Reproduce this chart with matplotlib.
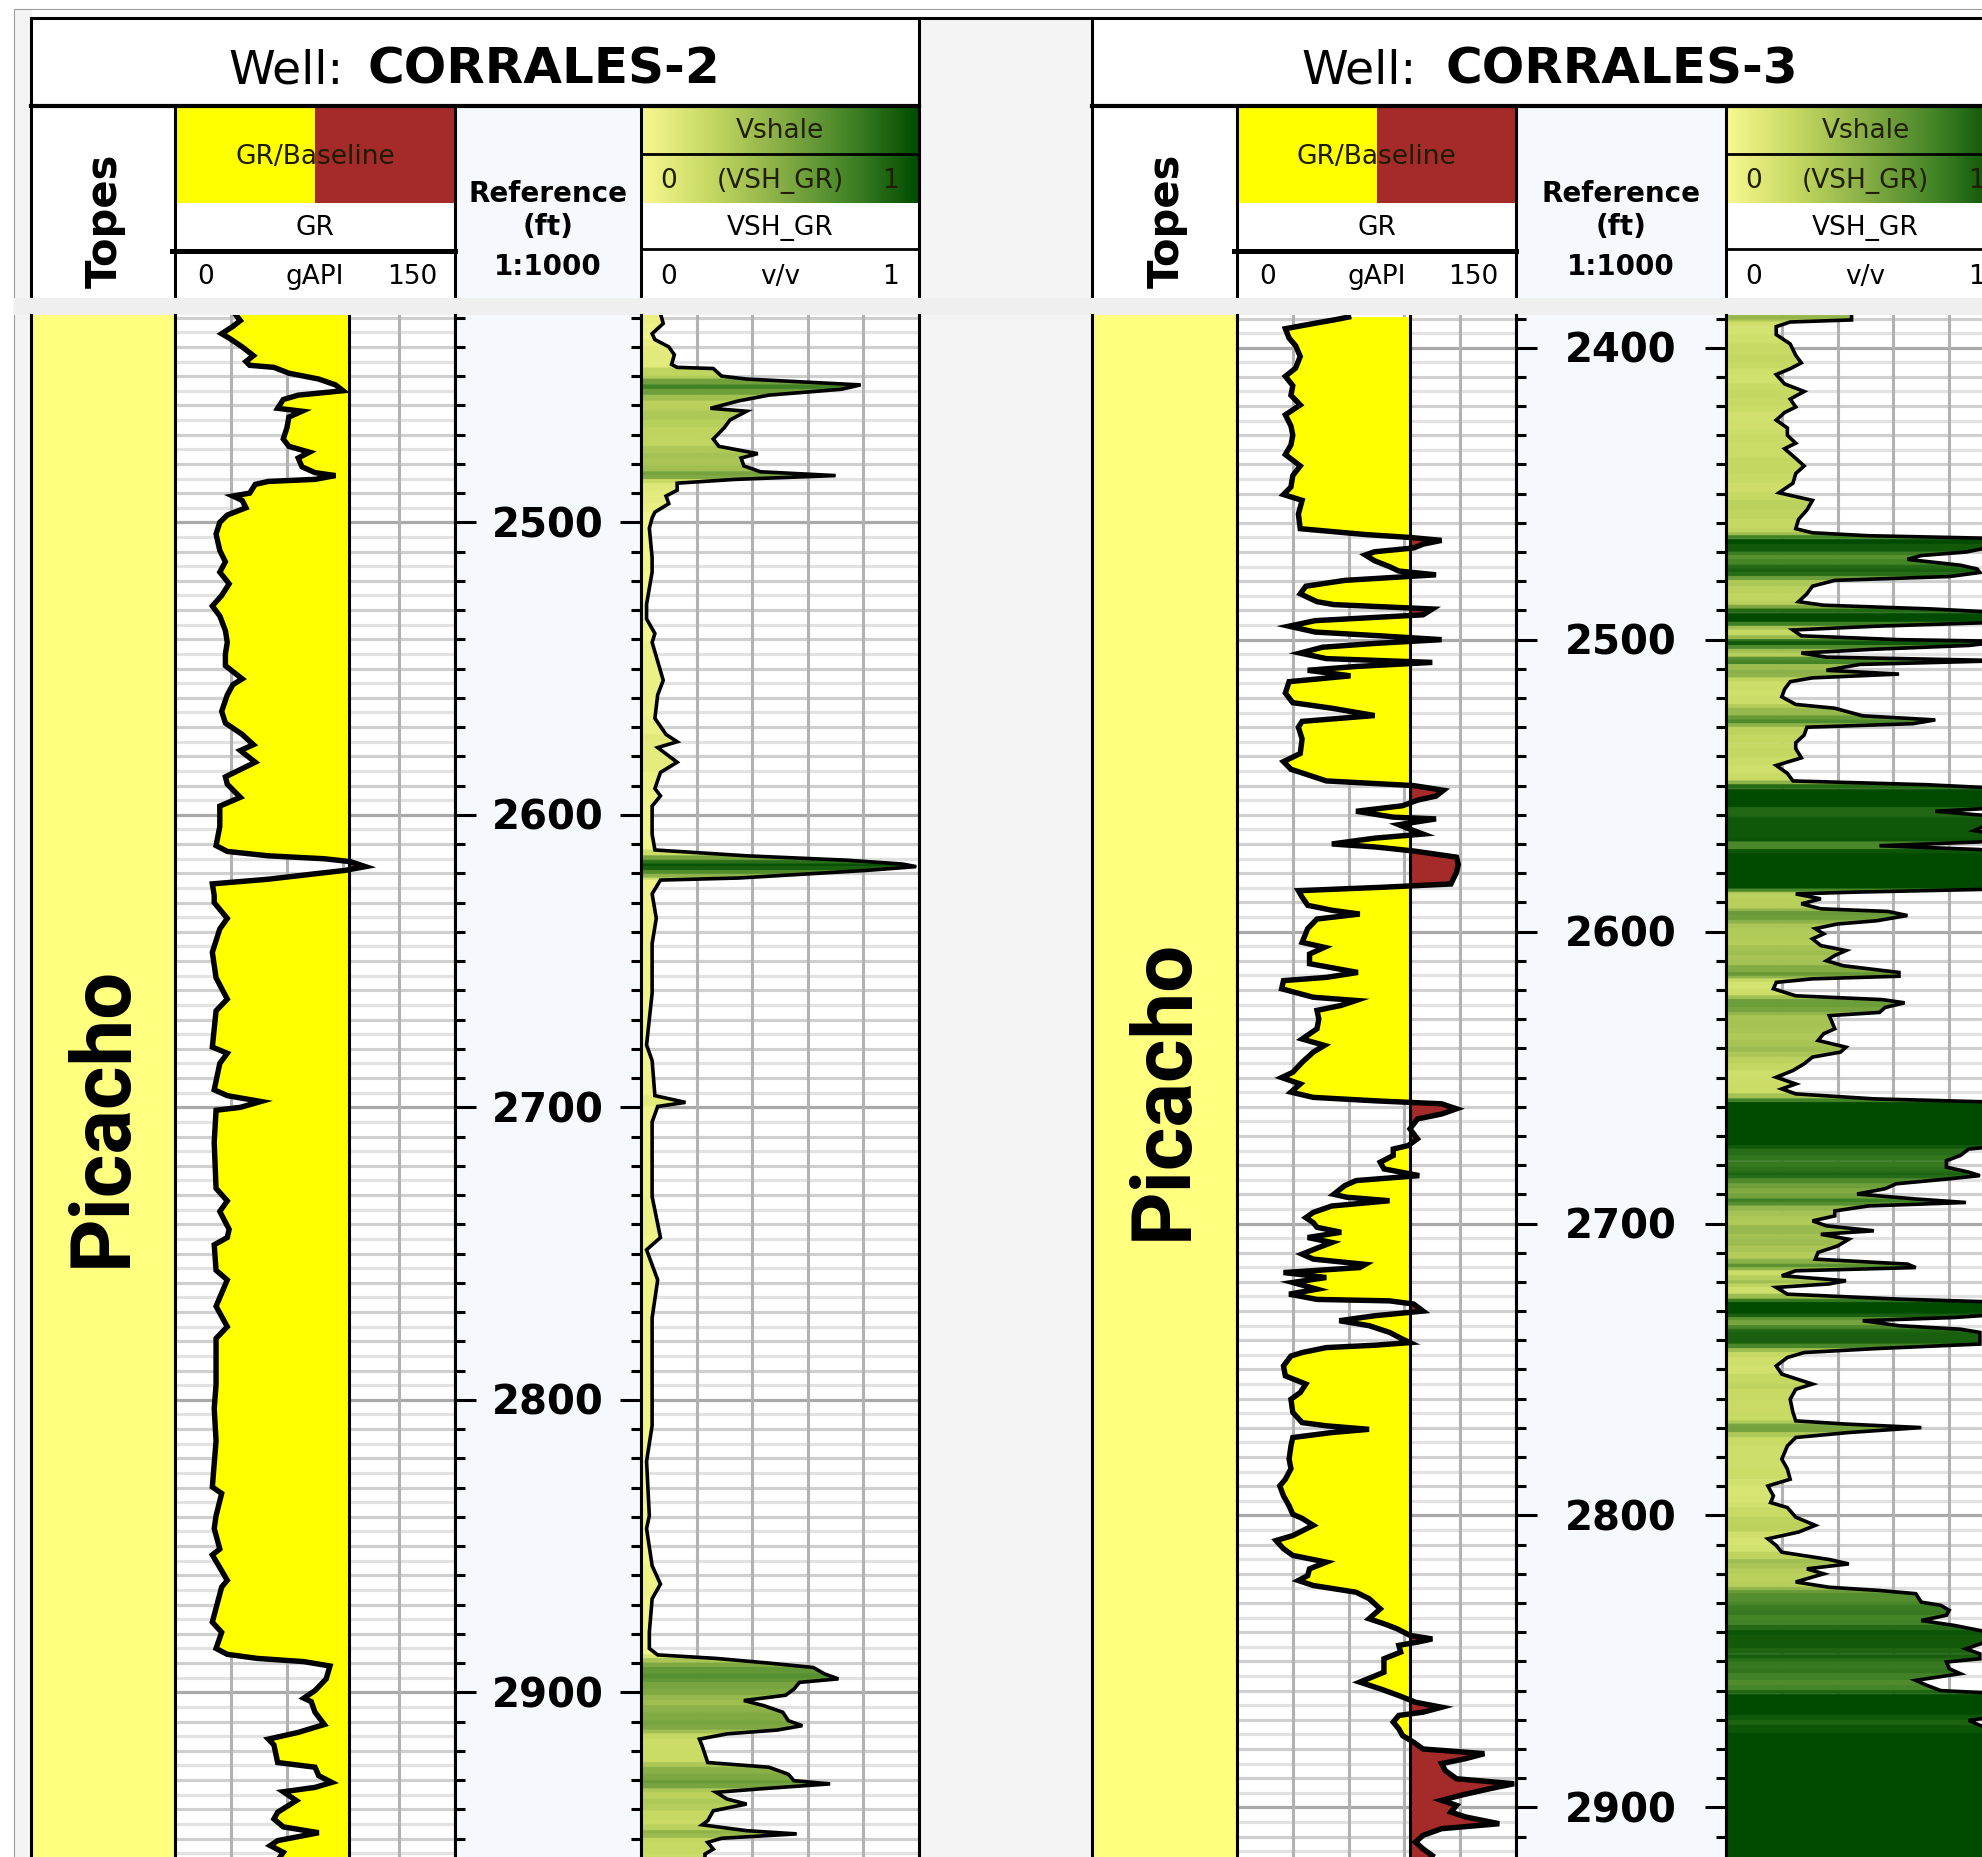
"""Two-well log correlation panel: GR with baseline shading and VSH_GR."""
import numpy as np
import matplotlib.pyplot as plt
from matplotlib.collections import PolyCollection
from matplotlib.colors import LinearSegmentedColormap
from matplotlib.patches import Rectangle

plt.rcParams["font.family"] = "DejaVu Sans"

WELLS = ["CORRALES-2", "CORRALES-3"]
FORMATION = "Picacho"
GR_BASELINE = [93, 93]  # gAPI
GR_RANGE = (0, 150)
VSH_RANGE = (0, 1)

# (depth ft, GR gAPI)
W1_GR = [
    (2428.6, 32), (2431.0, 35), (2433.0, 31), (2435.5, 25), (2437.0, 29), (2440.0, 36),
    (2443.0, 42), (2445.0, 38), (2446.3, 40), (2447.0, 53), (2449.0, 61), (2451.0, 77),
    (2453.0, 86), (2455.0, 90), (2456.5, 66), (2458.0, 58), (2461.0, 55), (2462.0, 68),
    (2464.0, 61), (2467.6, 60), (2471.5, 58), (2474.0, 61), (2476.0, 72), (2478.0, 66),
    (2481.0, 68), (2483.0, 75), (2484.0, 86), (2485.3, 75), (2486.0, 50), (2487.0, 43),
    (2490.0, 40), (2491.0, 31), (2492.5, 36), (2495.0, 38), (2497.5, 28), (2500.0, 24),
    (2504.0, 22), (2509.6, 24), (2513.5, 27), (2517.0, 24), (2521.0, 29), (2525.0, 25),
    (2528.6, 20), (2532.0, 24), (2537.0, 27), (2541.0, 28), (2545.0, 27), (2549.0, 27),
    (2553.5, 36), (2555.5, 31), (2559.0, 28), (2564.6, 25), (2568.6, 27), (2572.5, 36),
    (2576.0, 42), (2578.0, 35), (2582.0, 43), (2587.0, 27), (2589.5, 28), (2594.0, 35),
    (2597.0, 24), (2604.0, 24), (2610.5, 22), (2612.5, 28), (2614.0, 50), (2615.0, 80),
    (2616.0, 94), (2617.7, 102), (2619.0, 91), (2620.0, 77), (2622.0, 50), (2623.6, 20),
    (2627.5, 21), (2630.0, 21), (2635.4, 28), (2639.0, 24), (2647.0, 20), (2655.7, 22),
    (2663.0, 28), (2667.0, 22), (2679.4, 20), (2681.5, 28), (2685.0, 24), (2694.0, 21),
    (2696.0, 28), (2698.0, 46), (2700.0, 35), (2701.0, 22), (2712.0, 21), (2727.7, 22),
    (2732.0, 28), (2735.6, 24), (2741.7, 29), (2744.5, 28), (2747.0, 21), (2755.7, 22),
    (2759.0, 28), (2768.0, 22), (2775.0, 28), (2779.0, 22), (2794.8, 22), (2803.0, 21),
    (2814.0, 22), (2829.8, 20), (2832.0, 25), (2839.6, 22), (2844.0, 21), (2851.0, 24),
    (2853.0, 20), (2861.7, 28), (2864.0, 25), (2876.0, 20), (2879.5, 25), (2885.0, 22),
    (2887.0, 28), (2888.4, 44), (2889.5, 69), (2891.0, 83), (2895.4, 81), (2899.4, 75),
    (2902.0, 69), (2903.2, 73), (2906.8, 75), (2911.0, 80), (2913.7, 66), (2916.0, 50),
    (2918.0, 53), (2924.0, 55), (2925.6, 75), (2928.5, 77), (2930.8, 84), (2932.5, 75),
    (2934.0, 58), (2937.0, 65), (2941.0, 55), (2943.3, 53), (2946.0, 58), (2948.0, 77),
    (2950.7, 55), (2952.4, 51), (2954.7, 58), (2956.5, 56),
]

# (depth ft, VSH_GR v/v)
W1_VSH = [
    (2428.6, 0.07), (2432.0, 0.08), (2435.5, 0.04), (2437.5, 0.05), (2440.0, 0.10),
    (2442.7, 0.12), (2446.0, 0.11), (2447.0, 0.13), (2447.4, 0.26), (2450.0, 0.29),
    (2451.0, 0.38), (2453.0, 0.79), (2454.5, 0.72), (2456.5, 0.46), (2458.5, 0.35),
    (2461.0, 0.25), (2462.0, 0.38), (2465.0, 0.32), (2467.6, 0.30), (2471.5, 0.26),
    (2474.0, 0.28), (2476.5, 0.42), (2478.0, 0.36), (2480.7, 0.37), (2482.7, 0.43),
    (2484.0, 0.70), (2485.3, 0.34), (2486.6, 0.13), (2489.0, 0.13), (2491.0, 0.09),
    (2493.6, 0.10), (2496.5, 0.05), (2498.5, 0.04), (2502.0, 0.03), (2512.0, 0.04),
    (2517.0, 0.04), (2528.0, 0.02), (2533.0, 0.02), (2538.0, 0.05), (2541.0, 0.04),
    (2554.0, 0.08), (2559.0, 0.06), (2567.0, 0.05), (2572.5, 0.09), (2575.0, 0.13),
    (2577.0, 0.06), (2582.0, 0.13), (2585.5, 0.07), (2591.0, 0.05), (2593.5, 0.07),
    (2597.0, 0.04), (2606.6, 0.04), (2612.0, 0.05), (2614.0, 0.38), (2615.5, 0.74),
    (2616.8, 0.94), (2617.7, 0.99), (2619.0, 0.81), (2620.3, 0.58), (2621.6, 0.35),
    (2622.3, 0.07), (2627.0, 0.04), (2635.4, 0.055), (2644.0, 0.04), (2661.0, 0.04),
    (2678.7, 0.02), (2684.0, 0.04), (2696.0, 0.05), (2698.3, 0.16), (2699.7, 0.06),
    (2705.0, 0.04), (2730.5, 0.04), (2744.5, 0.07), (2748.7, 0.02), (2759.0, 0.06),
    (2772.0, 0.04), (2794.8, 0.04), (2808.8, 0.04), (2821.0, 0.02), (2839.6, 0.03),
    (2844.0, 0.02), (2856.7, 0.04), (2863.0, 0.07), (2868.0, 0.04), (2879.5, 0.03),
    (2885.0, 0.03), (2887.2, 0.06), (2888.4, 0.27), (2890.0, 0.46), (2891.5, 0.62),
    (2893.7, 0.66), (2895.4, 0.71), (2896.6, 0.57), (2898.9, 0.55), (2901.0, 0.52),
    (2902.8, 0.37), (2904.5, 0.44), (2906.8, 0.51), (2909.7, 0.53), (2911.4, 0.58),
    (2912.9, 0.49), (2914.2, 0.31), (2916.0, 0.21), (2918.3, 0.22), (2924.0, 0.24),
    (2925.6, 0.46), (2928.0, 0.53), (2930.2, 0.55), (2931.3, 0.68), (2933.0, 0.43),
    (2934.2, 0.27), (2936.5, 0.31), (2938.2, 0.38), (2940.5, 0.26), (2943.9, 0.24),
    (2945.3, 0.22), (2947.3, 0.38), (2948.4, 0.56), (2949.9, 0.29), (2951.3, 0.24),
    (2953.6, 0.26), (2955.3, 0.23), (2956.5, 0.23),
]

W2_GR = [
    (2389.5, 60), (2390.5, 52), (2391.5, 43), (2393.5, 26), (2396.7, 28), (2399.3, 31.5),
    (2403.0, 34), (2407.0, 31.5), (2409.8, 26), (2413.0, 30), (2416.3, 29), (2419.6, 34),
    (2423.0, 26), (2426.8, 29), (2430.0, 30), (2433.3, 29), (2436.6, 26), (2440.5, 34),
    (2443.8, 30), (2447.7, 29), (2450.3, 25), (2452.3, 35), (2457.0, 33), (2462.0, 34),
    (2464.0, 69), (2465.0, 93), (2466.0, 110), (2467.3, 100), (2468.6, 95), (2469.9, 74),
    (2471.0, 69), (2473.0, 74), (2475.0, 82), (2476.5, 87), (2477.8, 107), (2479.7, 58),
    (2481.7, 37), (2484.3, 34), (2487.0, 43), (2488.0, 52), (2489.5, 105), (2491.5, 100),
    (2493.5, 42), (2495.4, 28), (2497.4, 42), (2498.7, 77), (2500.0, 110), (2501.3, 74),
    (2502.6, 46), (2504.6, 34), (2506.5, 48), (2507.8, 105), (2509.2, 64), (2510.5, 38),
    (2512.4, 61), (2514.4, 28), (2518.3, 26), (2521.6, 30), (2523.5, 51), (2526.0, 74),
    (2528.0, 35), (2530.0, 33), (2534.0, 35), (2539.0, 34), (2541.8, 25), (2544.4, 29),
    (2548.4, 48), (2550.0, 95), (2551.6, 111), (2553.6, 107), (2555.0, 97), (2556.9, 89),
    (2558.8, 64), (2560.8, 84), (2561.4, 107), (2563.4, 87), (2564.7, 92), (2566.6, 100),
    (2568.0, 74), (2570.0, 51), (2571.0, 74), (2572.4, 95), (2574.5, 118), (2577.0, 119),
    (2579.7, 118), (2583.7, 115), (2584.8, 79), (2586.0, 33), (2588.2, 35), (2591.0, 38),
    (2592.7, 51), (2594.0, 66), (2595.7, 43), (2599.0, 38), (2603.7, 35), (2605.4, 47),
    (2607.7, 39), (2611.0, 39), (2614.0, 65), (2615.7, 48), (2616.8, 25), (2619.6, 24),
    (2622.5, 41), (2623.6, 64), (2625.3, 56), (2627.0, 43), (2630.0, 44), (2633.3, 43),
    (2636.8, 35), (2639.0, 47), (2641.3, 41), (2644.8, 35), (2648.2, 30), (2650.0, 24),
    (2652.2, 34), (2655.0, 29), (2656.8, 41), (2658.0, 75), (2659.0, 110), (2660.7, 118),
    (2662.5, 110), (2664.2, 97), (2667.6, 93), (2671.0, 97), (2673.3, 92), (2674.5, 84),
    (2676.7, 84), (2679.0, 77), (2681.3, 79), (2683.6, 98), (2685.3, 64), (2687.0, 58),
    (2690.0, 52), (2691.0, 59), (2692.2, 82), (2694.0, 51), (2696.2, 41), (2698.0, 37),
    (2699.7, 41), (2701.3, 43), (2703.0, 56), (2704.8, 38), (2706.5, 51), (2708.2, 44),
    (2710.5, 35), (2712.2, 41), (2714.0, 69), (2715.1, 66), (2716.8, 25), (2718.5, 48),
    (2720.2, 30), (2722.5, 43), (2724.2, 28), (2726.0, 43), (2726.5, 82), (2727.6, 95),
    (2730.0, 100), (2731.6, 74), (2733.3, 55), (2735.0, 71), (2737.3, 82), (2739.6, 89),
    (2740.8, 93), (2741.7, 74), (2742.5, 48), (2744.2, 35), (2745.4, 29), (2748.8, 25),
    (2752.2, 26), (2755.0, 37), (2757.9, 34), (2760.2, 29), (2764.7, 30), (2768.2, 35),
    (2769.3, 48), (2770.5, 71), (2771.6, 51), (2773.3, 30), (2776.2, 29), (2780.7, 28),
    (2784.0, 29), (2787.6, 26), (2789.9, 23), (2793.3, 25), (2796.7, 28), (2799.6, 30),
    (2801.0, 35), (2803.4, 41), (2806.9, 30), (2808.6, 21), (2811.4, 25), (2813.7, 30),
    (2816.0, 48), (2818.3, 39), (2820.6, 38), (2822.3, 33), (2824.0, 41), (2826.3, 64),
    (2828.5, 71), (2832.0, 77), (2835.4, 71), (2837.1, 79), (2838.8, 86), (2841.1, 93),
    (2842.3, 105), (2843.4, 97), (2844.5, 87), (2846.8, 88), (2849.1, 79), (2853.7, 79),
    (2857.1, 66), (2859.4, 77), (2861.7, 87), (2864.0, 96), (2865.7, 110), (2867.4, 100),
    (2868.5, 87), (2870.8, 84), (2873.1, 87), (2875.4, 89), (2877.7, 95), (2880.0, 100),
    (2881.6, 133), (2883.3, 123), (2885.0, 110), (2887.4, 112), (2890.2, 118), (2891.9, 149),
    (2893.6, 136), (2895.9, 120), (2897.6, 110), (2899.3, 118), (2901.6, 115), (2903.3, 123),
    (2905.6, 141), (2907.3, 110), (2909.6, 100), (2911.9, 96), (2914.2, 100), (2916.5, 105),
    (2917.5, 104),
]

W2_VSH = [
    (2388.8, 0.45), (2390.5, 0.45), (2391.2, 0.23), (2392.8, 0.18), (2395.5, 0.18),
    (2398.7, 0.23), (2402.6, 0.25), (2405.2, 0.27), (2407.2, 0.23), (2409.2, 0.18),
    (2412.4, 0.21), (2415.0, 0.28), (2417.6, 0.23), (2420.3, 0.25), (2422.2, 0.21),
    (2424.8, 0.18), (2427.5, 0.22), (2430.0, 0.22), (2432.7, 0.25), (2434.6, 0.21),
    (2437.9, 0.25), (2440.5, 0.28), (2443.1, 0.25), (2446.4, 0.24), (2449.7, 0.19),
    (2452.3, 0.31), (2455.6, 0.29), (2458.8, 0.26), (2462.0, 0.25), (2463.4, 0.31),
    (2464.4, 0.51), (2465.4, 1.0), (2467.3, 1.0), (2470.0, 0.86), (2471.2, 0.70),
    (2472.5, 0.65), (2474.5, 0.84), (2475.8, 0.90), (2477.0, 0.91), (2478.4, 0.80),
    (2479.7, 0.39), (2481.7, 0.31), (2484.3, 0.29), (2487.0, 0.26), (2488.2, 0.35),
    (2489.5, 0.74), (2490.8, 1.0), (2494.0, 1.0), (2495.4, 0.54), (2496.7, 0.24),
    (2498.7, 0.27), (2500.0, 0.62), (2500.6, 1.0), (2502.0, 0.87), (2503.3, 0.53),
    (2504.6, 0.27), (2506.0, 0.36), (2507.2, 1.0), (2508.5, 0.48), (2510.5, 0.36),
    (2511.8, 0.62), (2513.1, 0.31), (2514.4, 0.23), (2517.0, 0.21), (2519.6, 0.20),
    (2522.2, 0.25), (2523.5, 0.39), (2526.1, 0.49), (2527.5, 0.75), (2528.8, 0.67),
    (2530.0, 0.29), (2532.7, 0.28), (2535.3, 0.25), (2537.3, 0.25), (2540.5, 0.27),
    (2543.1, 0.18), (2545.8, 0.22), (2548.4, 0.24), (2549.7, 0.72), (2551.0, 1.0),
    (2557.5, 1.0), (2558.8, 0.75), (2560.8, 1.0), (2565.4, 0.89), (2567.3, 1.0),
    (2569.3, 0.91), (2570.6, 0.55), (2571.9, 0.91), (2573.2, 1.0), (2585.4, 1.0),
    (2586.5, 0.46), (2587.1, 0.25), (2588.8, 0.34), (2590.5, 0.27), (2592.2, 0.34),
    (2593.1, 0.58), (2594.5, 0.65), (2596.3, 0.54), (2597.4, 0.40), (2599.0, 0.32),
    (2600.8, 0.35), (2602.5, 0.31), (2604.8, 0.34), (2606.5, 0.43), (2608.2, 0.39),
    (2610.0, 0.36), (2611.7, 0.42), (2614.0, 0.62), (2615.3, 0.62), (2616.2, 0.31),
    (2617.4, 0.18), (2619.6, 0.17), (2622.0, 0.25), (2623.3, 0.56), (2624.4, 0.64),
    (2626.0, 0.57), (2627.7, 0.55), (2628.8, 0.37), (2631.0, 0.38), (2633.3, 0.39),
    (2635.0, 0.35), (2637.3, 0.33), (2639.6, 0.43), (2641.3, 0.41), (2643.0, 0.31),
    (2645.3, 0.28), (2647.6, 0.24), (2649.9, 0.18), (2652.2, 0.25), (2653.9, 0.20),
    (2655.6, 0.25), (2657.3, 0.53), (2658.5, 1.0), (2673.3, 1.0), (2674.5, 0.87),
    (2676.7, 0.84), (2678.5, 0.79), (2680.7, 0.79), (2682.4, 0.87), (2683.6, 0.91),
    (2684.7, 0.80), (2686.4, 0.61), (2688.1, 0.57), (2689.9, 0.47), (2691.6, 0.68),
    (2692.8, 0.86), (2694.0, 0.51), (2695.7, 0.39), (2697.4, 0.39), (2699.1, 0.31),
    (2700.8, 0.36), (2702.5, 0.53), (2703.7, 0.34), (2705.4, 0.44), (2707.7, 0.40),
    (2709.9, 0.33), (2712.2, 0.32), (2713.9, 0.65), (2715.1, 0.68), (2716.2, 0.25),
    (2717.9, 0.20), (2719.6, 0.43), (2720.7, 0.37), (2721.9, 0.18), (2724.2, 0.22),
    (2725.9, 0.62), (2727.0, 1.0), (2731.0, 1.0), (2732.2, 0.82), (2733.3, 0.49),
    (2735.0, 0.62), (2736.2, 0.84), (2737.3, 0.91), (2739.6, 0.91), (2741.3, 0.91),
    (2742.8, 0.55), (2744.2, 0.28), (2745.9, 0.22), (2748.8, 0.18), (2751.6, 0.20),
    (2755.0, 0.31), (2756.8, 0.25), (2760.2, 0.23), (2764.7, 0.24), (2767.6, 0.25),
    (2768.7, 0.43), (2769.9, 0.70), (2771.6, 0.44), (2773.3, 0.25), (2776.2, 0.22),
    (2780.7, 0.20), (2784.1, 0.22), (2787.6, 0.23), (2789.9, 0.15), (2793.3, 0.17),
    (2795.6, 0.16), (2797.3, 0.22), (2800.6, 0.25), (2803.4, 0.32), (2805.7, 0.26),
    (2808.0, 0.15), (2810.3, 0.18), (2812.6, 0.20), (2815.1, 0.37), (2816.6, 0.44),
    (2818.3, 0.29), (2820.0, 0.35), (2822.8, 0.25), (2824.6, 0.37), (2825.7, 0.55),
    (2826.8, 0.68), (2829.7, 0.70), (2830.8, 0.77), (2832.5, 0.80), (2834.2, 0.79),
    (2836.0, 0.70), (2837.7, 0.82), (2839.4, 0.91), (2841.1, 1.0), (2845.7, 0.86),
    (2847.4, 0.91), (2849.1, 0.91), (2850.2, 0.79), (2852.5, 0.80), (2854.2, 0.84),
    (2856.5, 0.68), (2858.2, 0.72), (2860.0, 0.77), (2861.1, 1.0), (2868.5, 1.0),
    (2870.2, 0.87), (2871.9, 0.91), (2874.2, 1.0), (2917.5, 1.0),
]

GR_LOGS = [W1_GR, W2_GR]
VSH_LOGS = [W1_VSH, W2_VSH]

VSH_CMAP = LinearSegmentedColormap.from_list(
    "vshale", ["#f8f890", "#c6d962", "#88ae46", "#438427", "#004b00"])
SAND, SHALE = "#ffff00", "#a52a2a"

# page layout in pixels (y grows downward)
FIG_W, FIG_H = 1983, 1857
TITLE_TOP, TITLE_BOT, HEAD_BOT, TRACK_TOP = 18, 106, 298, 315
PANELS = [
    dict(cols=[31, 175, 455, 641, 919], depth=(2429.1, 2956.3), title_x=(228, 368)),
    dict(cols=[1092, 1237, 1516, 1726, 2005], depth=(2388.8, 2917.0), title_x=(1301, 1445)),
]
TOPS_Y = [0.48, 0.498]

fig = plt.figure(figsize=(FIG_W / 100, FIG_H / 100), dpi=100)


def px_axes(x0, y0, x1, y1):
    return fig.add_axes([x0 / FIG_W, 1 - y1 / FIG_H, (x1 - x0) / FIG_W, (y1 - y0) / FIG_H])


canvas = px_axes(0, 0, FIG_W, FIG_H)
canvas.axis("off")
canvas.add_patch(Rectangle((14, 9), FIG_W, FIG_H, fc="#f4f4f4", ec="#9c9c9c", lw=0.8))
canvas.add_patch(Rectangle((32, 10), FIG_W, 7, fc="white", ec="none"))
canvas.plot([31, FIG_W], [18, 18], color="black", lw=2.2, zorder=4)

BLACK = dict(color="black", zorder=4, solid_capstyle="projecting")


def draw_header(i):
    x0, x1, x2, x3, x4 = PANELS[i]["cols"]
    tx0, tx1 = PANELS[i]["title_x"]
    gmid, rmid, vmid = (x1 + x2) / 2, (x2 + x3) / 2, (x3 + x4) / 2

    canvas.add_patch(Rectangle((x0, TITLE_TOP), x4 - x0, HEAD_BOT - TITLE_TOP,
                               fc="white", ec="none", zorder=1))
    canvas.add_patch(Rectangle((x1, TITLE_BOT), gmid - x1, 97, fc=SAND, zorder=2))
    canvas.add_patch(Rectangle((gmid, TITLE_BOT), x2 - gmid, 97, fc=SHALE, zorder=2))
    canvas.add_patch(Rectangle((x2, TITLE_BOT), x3 - x2, HEAD_BOT - TITLE_BOT,
                               fc="#f5f9fe", zorder=2))
    canvas.imshow(np.linspace(0, 1, 256)[None, :], cmap=VSH_CMAP, aspect="auto",
                  extent=(x3, x4, 203, TITLE_BOT), zorder=2)

    canvas.plot([x0, x4], [TITLE_BOT, TITLE_BOT], lw=3.0, **BLACK)
    for x in (x0, x4):
        canvas.plot([x, x], [TITLE_TOP, HEAD_BOT], lw=2.2, **BLACK)
    for x in (x1, x2, x3):
        canvas.plot([x, x], [TITLE_BOT, HEAD_BOT], lw=2.2, **BLACK)
    canvas.plot([x3, x4], [154, 154], lw=2.0, **BLACK)
    canvas.plot([x3, x4], [249, 249], lw=2.0, **BLACK)
    canvas.plot([x1 - 3, x2], [250.5, 250.5], lw=3.6, **BLACK)

    canvas.text(tx0, 84, "Well:", fontsize=34, va="baseline", zorder=5)
    canvas.text(tx1, 84, WELLS[i], fontsize=36, weight="bold", va="baseline", zorder=5)
    canvas.text((x0 + x1) / 2 + 2, 221, "Topes", rotation=90, fontsize=30, weight="bold",
                ha="center", va="center", zorder=5)

    small = dict(fontsize=19, va="center", zorder=5)
    canvas.text(gmid, 157, "GR/Baseline", ha="center", color="#1c1c00", **small)
    canvas.text(gmid, 228, "GR", ha="center", **small)
    canvas.text(x1 + 22, 277, f"{GR_RANGE[0]}", ha="left", **small)
    canvas.text(gmid, 277, "gAPI", ha="center", **small)
    canvas.text(x2 - 18, 277, f"{GR_RANGE[1]}", ha="right", **small)

    bold = dict(fontsize=20, weight="bold", ha="center", va="center", zorder=5)
    canvas.text(rmid, 194, "Reference", **bold)
    canvas.text(rmid, 227, "(ft)", **bold)
    canvas.text(rmid, 267, "1:1000", **bold)

    canvas.text(vmid, 131, "Vshale", ha="center", color="#202000", **small)
    canvas.text(x3 + 19, 181, f"{VSH_RANGE[0]}", ha="left", color="#202000", **small)
    canvas.text(vmid, 181, "(VSH_GR)", ha="center", color="#202000", **small)
    canvas.text(x4 - 20, 181, f"{VSH_RANGE[1]}", ha="right", color="#202000", **small)
    canvas.text(vmid, 228, "VSH_GR", ha="center", **small)
    canvas.text(x3 + 19, 277, f"{VSH_RANGE[0]}", ha="left", **small)
    canvas.text(vmid, 277, "v/v", ha="center", **small)
    canvas.text(x4 - 20, 277, f"{VSH_RANGE[1]}", ha="right", **small)


def track(x0, x1, top, bot, xlim):
    ax = px_axes(x0, TRACK_TOP, x1, FIG_H)
    ax.set_xlim(*xlim)
    ax.set_ylim(bot, top)
    ax.set_xticks([])
    ax.set_yticks([])
    for s in ("top", "bottom"):
        ax.spines[s].set_visible(False)
    for s in ("left", "right"):
        ax.spines[s].set_linewidth(2.2)
    return ax


def depth_grid(ax, top, bot, xgrid):
    for d in np.arange(np.ceil(top / 5) * 5, bot, 5):
        if d % 100 == 0:
            c = "#a9a9a9"
        elif d % 10 == 0:
            c = "#cfcfcf"
        else:
            c = "#e2e2e2"
        ax.axhline(d, color=c, lw=2.3, zorder=1)
    for x in xgrid:
        ax.axvline(x, color="#b2b2b2", lw=2.2, zorder=1.1)


def draw_tracks(i):
    x0, x1, x2, x3, x4 = PANELS[i]["cols"]
    top, bot = PANELS[i]["depth"]
    ppf = (FIG_H - TRACK_TOP) / (bot - top)

    # formation tops
    ax = track(x0, x1, top, bot, (0, 1))
    ax.set_facecolor("#ffff80")
    ax.text(0.5, TOPS_Y[i], FORMATION, transform=ax.transAxes, rotation=90,
            ha="center", va="center", fontsize=60, weight="bold", family="Roboto")

    # gamma ray with sand / shale shading against the baseline
    dep, gr = np.array(GR_LOGS[i]).T
    base = GR_BASELINE[i]
    ax = track(x1, x2, top, bot, GR_RANGE)
    depth_grid(ax, top, bot, [30, 60, 90, 120])
    ax.fill_betweenx(dep, gr, base, where=gr <= base, interpolate=True,
                     color=SAND, lw=0, zorder=2)
    ax.fill_betweenx(dep, gr, base, where=gr >= base, interpolate=True,
                     color=SHALE, lw=0, zorder=2)
    ax.axvline(base, color="black", lw=2.2, zorder=3)
    ax.plot(gr, dep, color="black", lw=3.9, zorder=4, solid_joinstyle="miter")

    # depth reference
    w = x3 - x2
    ax = track(x2, x3, top, bot, (0, w))
    ax.set_facecolor("#f5f9fe")
    for d in np.arange(np.ceil(top / 10) * 10, bot, 10):
        major = d % 100 == 0
        L = 21 if major else 10
        ax.plot([0, L], [d, d], color="black", lw=2.2, solid_capstyle="butt")
        ax.plot([w - L, w], [d, d], color="black", lw=2.2, solid_capstyle="butt")
        if major:
            ax.text(w / 2, d + 14.7 / ppf, f"{int(d)}", ha="center", va="baseline",
                    fontsize=29, weight="bold")

    # shale volume, filled with a value-coloured ramp
    dep, vsh = np.array(VSH_LOGS[i]).T
    ax = track(x3, x4, top, bot, VSH_RANGE)
    depth_grid(ax, top, bot, [0.2, 0.4, 0.6, 0.8])
    polys = [[(0, dep[k]), (vsh[k], dep[k]), (vsh[k + 1], dep[k + 1]), (0, dep[k + 1])]
             for k in range(len(dep) - 1)]
    cols = VSH_CMAP((vsh[:-1] + vsh[1:]) / 2)
    ax.add_collection(PolyCollection(polys, facecolors=cols, edgecolors=cols,
                                     linewidths=0.6, zorder=2))
    ax.plot(vsh, dep, color="black", lw=2.6, zorder=4, solid_joinstyle="miter")


for i in range(len(WELLS)):
    draw_header(i)

# splitter strip between the header and the tracks
canvas.add_patch(Rectangle((14, HEAD_BOT), FIG_W, TRACK_TOP - HEAD_BOT, fc="#efefef",
                           ec="none", zorder=6))
canvas.set_xlim(0, FIG_W)
canvas.set_ylim(FIG_H, 0)

for i in range(len(WELLS)):
    draw_tracks(i)

fig.savefig("out.png", dpi=100)
